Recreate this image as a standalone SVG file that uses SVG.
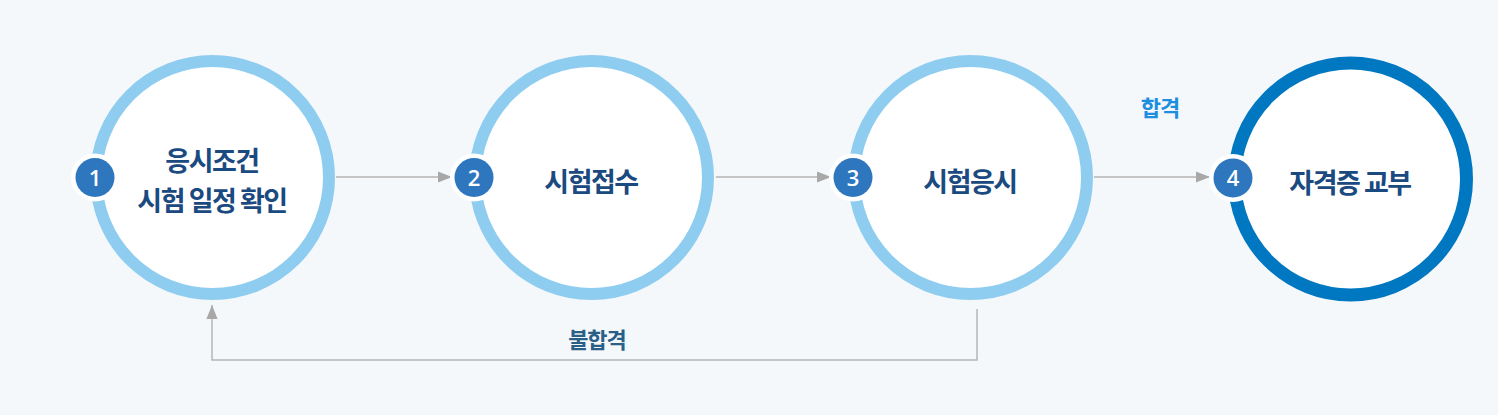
<svg xmlns="http://www.w3.org/2000/svg" width="1498" height="415" viewBox="0 0 1498 415">
<defs>
<style>
.ring{fill:#ffffff;stroke:#8fcdf0;stroke-width:12}
.ring4{fill:#ffffff;stroke:#0077c1;stroke-width:13}
.badge-bg{fill:#ffffff}
.badge{fill:#2e77bf}
.num{font-family:"Open Sans","Liberation Sans",sans-serif;font-size:22px;font-weight:600;fill:#ffffff;text-anchor:middle}
.label{font-family:"Noto Sans CJK KR","Noto Sans",sans-serif;font-size:27px;font-weight:bold;fill:#1a4a80;text-anchor:middle;letter-spacing:-1.5px}
.edge{fill:none;stroke:#b5b5b5;stroke-width:1.5}
.elabel{font-family:"Noto Sans CJK KR","Noto Sans",sans-serif;font-size:22px;font-weight:bold;text-anchor:middle;letter-spacing:-1px}
</style>
<marker id="arr" viewBox="0 0 10 10" refX="10" refY="5" markerWidth="14" markerHeight="14" markerUnits="userSpaceOnUse" orient="auto">
<path d="M0,1 L10,5 L0,9 Z" fill="#a8a8a8"/>
</marker>
</defs>
<rect width="1498" height="415" fill="#f5f8fb"/>
<g id="connectors">
<line class="edge" x1="336" y1="177" x2="452" y2="177" marker-end="url(#arr)"/>
<line class="edge" x1="716" y1="177" x2="831" y2="177" marker-end="url(#arr)"/>
<line class="edge" x1="1094" y1="177" x2="1210" y2="177" marker-end="url(#arr)"/>
<polyline class="edge" points="977,309 977,360 212,360 212,305" marker-end="url(#arr)"/>
<text class="elabel" x="1160" y="116" fill="#1d8fe0">합격</text>
<text class="elabel" x="597" y="348" fill="#2a5f87">불합격</text>
</g>
<g id="node1">
<circle class="ring" cx="212.5" cy="177.5" r="116.5"/>
<circle class="badge-bg" cx="95" cy="177.5" r="24"/>
<circle class="badge" cx="95" cy="177.5" r="19.5"/>
<text class="num" x="95" y="185.5">1</text>
<text class="label" x="212" y="171">응시조건</text>
<text class="label" x="212" y="211">시험 일정 확인</text>
</g>
<g id="node2">
<circle class="ring" cx="591.5" cy="177.5" r="116.5"/>
<circle class="badge-bg" cx="474" cy="177.5" r="24"/>
<circle class="badge" cx="474" cy="177.5" r="19.5"/>
<text class="num" x="474" y="185.5">2</text>
<text class="label" x="591" y="192">시험접수</text>
</g>
<g id="node3">
<circle class="ring" cx="970.5" cy="177.5" r="116.5"/>
<circle class="badge-bg" cx="853" cy="177.5" r="24"/>
<circle class="badge" cx="853" cy="177.5" r="19.5"/>
<text class="num" x="853" y="185.5">3</text>
<text class="label" x="970" y="192">시험응시</text>
</g>
<g id="node4">
<circle class="ring4" cx="1350.5" cy="179" r="116"/>
<circle class="badge-bg" cx="1233" cy="178" r="24"/>
<circle class="badge" cx="1233" cy="178" r="19.5"/>
<text class="num" x="1233" y="186">4</text>
<text class="label" x="1350" y="193">자격증 교부</text>
</g>
</svg>
